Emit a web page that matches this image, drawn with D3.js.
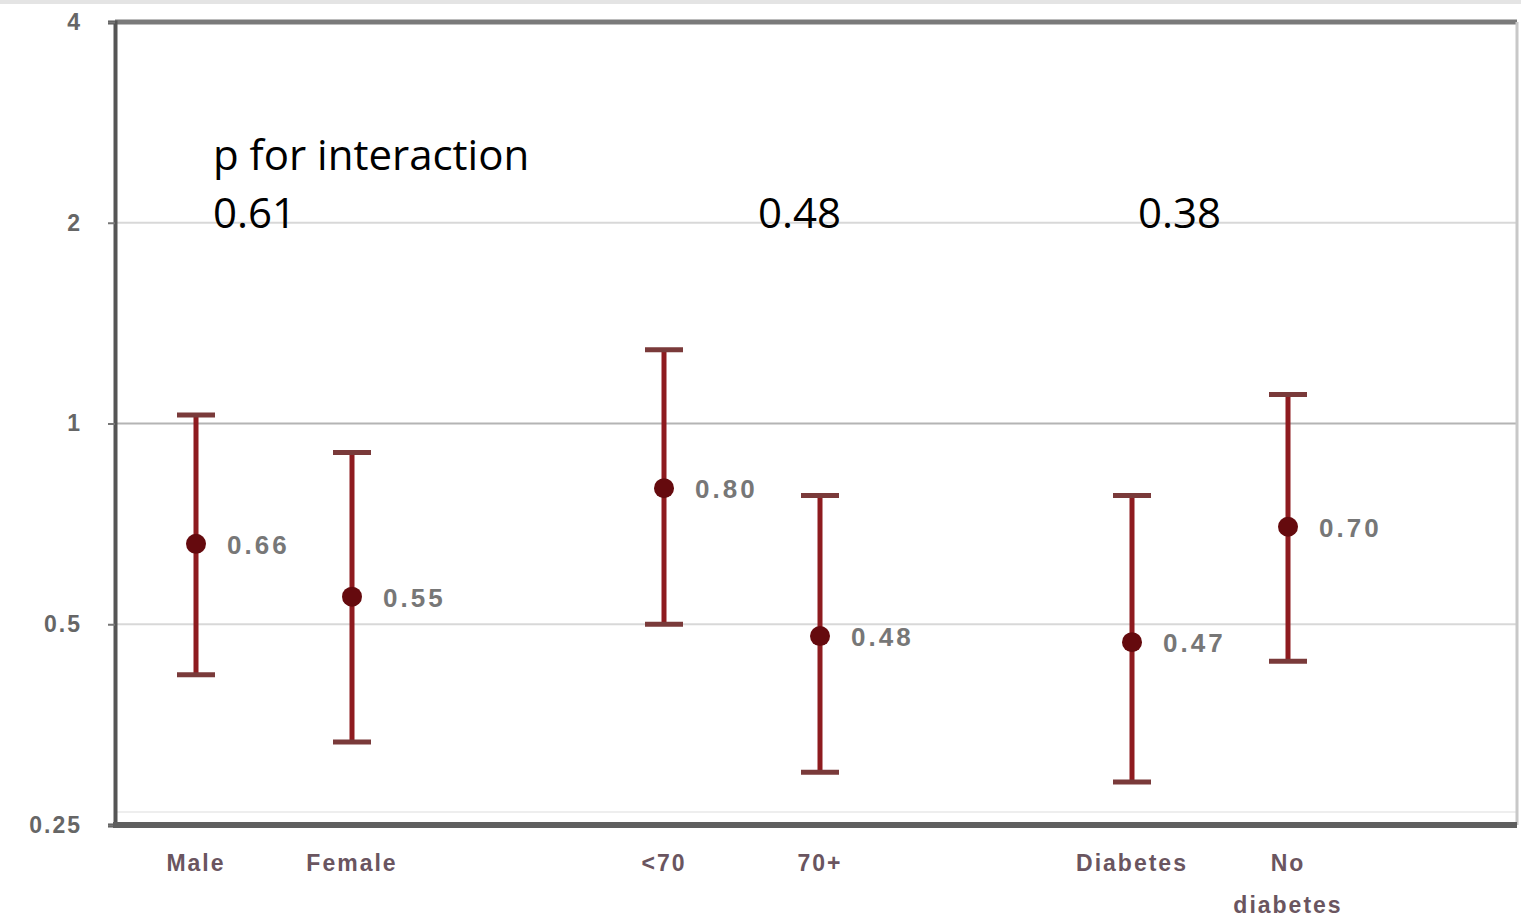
<!DOCTYPE html>
<meta charset="utf-8">
<script src="https://d3js.org/d3.v7.min.js"></script>
<style>
  body { margin: 0; background: #fff; }
</style>
<div id="my_dataviz"></div>
<script>
  // subgroups
  var categories = ["Male", "Female", "<70", "70+", "Diabetes", "No diabetes"];
  var groupOf    = [0, 0, 1, 1, 2, 2];
  var estimates  = [0.66, 0.55, 0.80, 0.48, 0.47, 0.70];
  var lower      = [0.42, 0.333, 0.50, 0.30, 0.29, 0.44];
  var upper      = [1.03, 0.905, 1.29, 0.78, 0.78, 1.105];
  var valueLabels = ["0.66", "0.55", "0.80", "0.48", "0.47", "0.70"];
  var pValues    = ["0.61", "0.48", "0.38"];
  var yTicks     = [0.25, 0.5, 1, 2, 4];

  var W = 1521, H = 923;
  var margin = {top: 22, right: 4, bottom: 98, left: 115};
  var width = W - margin.left - margin.right,
      height = H - margin.top - margin.bottom;

  var svg = d3.select("#my_dataviz")
    .append("svg")
      .attr("width", W)
      .attr("height", H);

  var g = svg.append("g")
      .attr("transform", "translate(" + margin.left + "," + margin.top + ")");

  // slot = position with a blank slot between groups
  function slot(i) { return groupOf[i] * 3 + (i % 2); }
  var x = d3.scaleLinear().domain([0, 1]).range([81, 237]);
  var y = d3.scaleLog().base(2).domain([0.25, 4]).range([height, 0]);

  var labelFont = "Liberation Sans, Arial, sans-serif";

  // faint line at the very top of the image
  svg.append("line")
    .attr("x1", 0).attr("x2", W).attr("y1", 2).attr("y2", 2)
    .attr("stroke", "#e4e4e4").attr("stroke-width", 4);

  // gridlines
  g.selectAll(".grid")
    .data([0.5, 1, 2])
    .enter().append("line")
      .attr("x1", 0).attr("x2", width)
      .attr("y1", function(d) { return y(d); })
      .attr("y2", function(d) { return y(d); })
      .attr("stroke", function(d) { return d === 1 ? "#b4b4b4" : "#d8d8d8"; })
      .attr("stroke-width", 2);

  g.append("line")
    .attr("x1", 0).attr("x2", width)
    .attr("y1", height - 13).attr("y2", height - 13)
    .attr("stroke", "#eee").attr("stroke-width", 2);

  // frame: top and right
  g.append("line")
    .attr("x1", 0).attr("x2", width).attr("y1", 0).attr("y2", 0)
    .attr("stroke", "#7a7a7a").attr("stroke-width", 5);
  g.append("line")
    .attr("x1", width).attr("x2", width).attr("y1", 0).attr("y2", height)
    .attr("stroke", "#c8c8c8").attr("stroke-width", 3);

  // y axis
  var yAxis = g.append("g")
    .call(d3.axisLeft(y).tickValues(yTicks).tickFormat(d3.format("")).tickSize(7));
  yAxis.select(".domain").attr("stroke", "#555").attr("stroke-width", 4);
  yAxis.selectAll(".tick line").attr("stroke", "#777").attr("stroke-width", 2);
  yAxis.selectAll(".tick text")
    .attr("x", -33)
    .attr("fill", "#666")
    .attr("font-size", null)
    .style("font-family", labelFont)
    .style("font-size", "23px")
    .style("letter-spacing", "2px")
    .style("font-weight", "bold");

  // bottom axis line
  g.append("line")
    .attr("x1", -2).attr("x2", width).attr("y1", height).attr("y2", height)
    .attr("stroke", "#5f5f5f").attr("stroke-width", 6);

  // category labels
  var cat = g.selectAll(".cat")
    .data(categories)
    .enter().append("text")
      .attr("x", function(d, i) { return x(slot(i)); })
      .attr("y", height + 46)
      .attr("text-anchor", "middle")
      .attr("fill", "#6a5560")
      .style("font-family", labelFont)
      .style("font-size", "23px")
      .style("letter-spacing", "2px")
      .style("font-weight", "bold");
  cat.each(function(d) {
    var parts = d === "No diabetes" ? ["No", "diabetes"] : [d];
    var t = d3.select(this);
    parts.forEach(function(p, k) {
      t.append("tspan")
        .attr("x", t.attr("x"))
        .attr("dy", k === 0 ? 0 : 42)
        .text(p);
    });
  });

  var red = "#8e1b1f";

  // error bars
  var bars = g.selectAll(".bar")
    .data(categories)
    .enter().append("g");

  bars.append("line")
    .attr("x1", function(d, i) { return x(slot(i)); })
    .attr("x2", function(d, i) { return x(slot(i)); })
    .attr("y1", function(d, i) { return y(upper[i]); })
    .attr("y2", function(d, i) { return y(lower[i]); })
    .attr("stroke", red).attr("stroke-width", 5);

  [upper, lower].forEach(function(arr) {
    bars.append("line")
      .attr("x1", function(d, i) { return x(slot(i)) - 19; })
      .attr("x2", function(d, i) { return x(slot(i)) + 19; })
      .attr("y1", function(d, i) { return y(arr[i]); })
      .attr("y2", function(d, i) { return y(arr[i]); })
      .attr("stroke", "#7a3a3a").attr("stroke-width", 5);
  });

  bars.append("circle")
    .attr("cx", function(d, i) { return x(slot(i)); })
    .attr("cy", function(d, i) { return y(estimates[i]); })
    .attr("r", 10)
    .attr("fill", "#650a0e");

  bars.append("text")
    .attr("x", function(d, i) { return x(slot(i)) + 31; })
    .attr("y", function(d, i) { return y(estimates[i]) + 10; })
    .attr("fill", "#777")
    .style("font-family", labelFont)
    .style("font-size", "26px")
    .style("letter-spacing", "3px")
    .style("font-weight", "bold")
    .text(function(d, i) { return valueLabels[i]; });

  // p for interaction annotations
  var font = "Open Sans, Lato, sans-serif";
  svg.append("text")
    .attr("x", 213).attr("y", 170)
    .style("font-family", font).style("font-size", "42px")
    .attr("fill", "#000")
    .text("p for interaction");

  var pOffset = [17, 94, 6];
  svg.selectAll(".pval")
    .data(pValues)
    .enter().append("text")
      .attr("x", function(d, k) { return margin.left + x(k * 3) + pOffset[k]; })
      .attr("y", 228)
      .style("font-family", font).style("font-size", "42px")
      .attr("fill", "#000")
      .text(function(d) { return d; });
</script>
